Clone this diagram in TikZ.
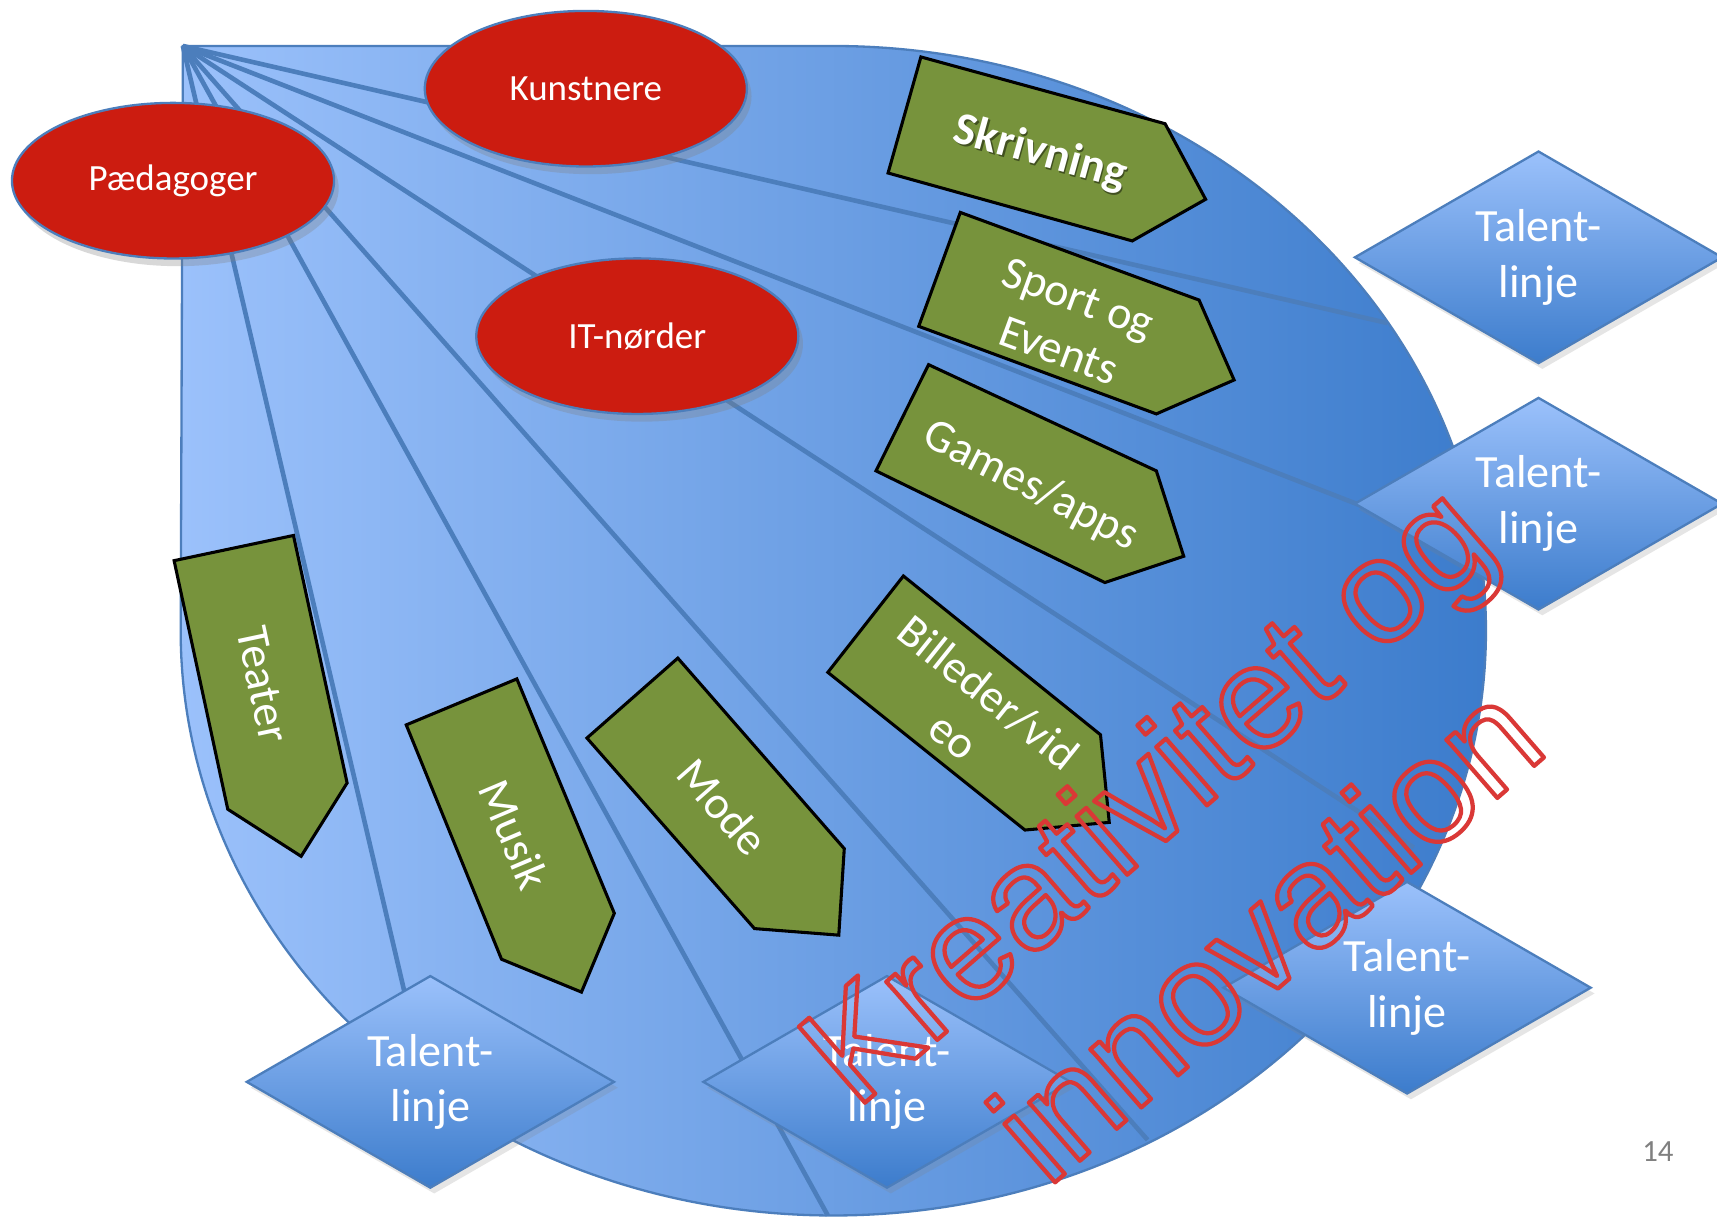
\documentclass[tikz,border=0pt]{standalone}
\usepackage{fontspec}
\setmainfont{Carlito}
\newfontfamily\wmfont{Liberation Sans}
\usetikzlibrary{shapes.geometric,shadows}
\definecolor{bluelight}{RGB}{155,193,251}
\definecolor{bluedark}{RGB}{60,124,204}
\definecolor{lineblue}{RGB}{76,126,188}
\definecolor{redell}{RGB}{204,28,16}
\definecolor{olivegreen}{RGB}{119,147,60}
\definecolor{wmred}{RGB}{218,56,54}
\definecolor{pagegray}{RGB}{128,128,128}
\newcommand\outlinetxt[1]{\special{pdf:literal direct 1 Tr 1.1 w 1 j}#1\special{pdf:literal direct 0 Tr}}
\tikzset{
  teardrop/.style={draw=lineblue, line width=0.6pt, left color=bluelight, right color=bluedark},
  ray/.style={draw=lineblue, line width=1.2pt},
  talent/.style={diamond, aspect=1.73, minimum width=3.36cm, minimum height=1.94cm, inner sep=0pt,
    draw=lineblue, line width=0.6pt, top color=bluelight, bottom color=bluedark,
    text=white, align=center, font=\fontsize{12}{14.5}\selectfont,
    drop shadow={shadow xshift=1pt, shadow yshift=-1.5pt, opacity=0.2}},
  group/.style={ellipse, minimum width=2.94cm, minimum height=1.42cm, inner sep=0pt,
    draw=lineblue, line width=0.6pt, fill=redell, text=white,
    font=\fontsize{9.6}{11.5}\selectfont,
    drop shadow={shadow xshift=1.2pt, shadow yshift=-2pt, opacity=0.3}},
  field/.style={draw=black, line width=0.8pt, fill=olivegreen, line join=miter},
  fieldtext/.style={text=white, align=center, inner sep=0pt, font=\fontsize{12}{14.5}\selectfont},
}
\begin{document}
\begin{tikzpicture}[x=0.01cm, y=0.01cm]
\useasboundingbox (0,0) rectangle (1568,-1112);
\fill[white] (0,0) rectangle (1568,-1112);

% big teardrop
\path[teardrop] (167,-42) -- (761,-42) arc[start angle=90, end angle=-180, x radius=596, y radius=534] -- cycle;

% rays
\coordinate (apex) at (167,-42);
\coordinate (e1) at (1267,-295);
\coordinate (e2) at (1300,-484);
\coordinate (e3) at (1291,-774);
\coordinate (e4) at (1048,-1041);
\coordinate (e5) at (756,-1110);
\coordinate (e7) at (375,-930);
\foreach \e in {e1,e2,e3,e4,e5,e7} \draw[ray] (apex) -- (\e);

% talent diamonds
\node[talent] (t1) at (1405,-235) {Talent-\\linje};
\node[talent] (t2) at (1405,-460) {Talent-\\linje};
\node[talent] (t3) at (1285,-902) {Talent-\\linje};
\node[talent] (t4) at (393,-988) {Talent-\\linje};
\node[talent] (t5) at (810,-988) {Talent-\\linje};

% red groups
\node[group] (paed) at (158,-165) {Pædagoger};
\node[group] (kunst) at (535,-81) {Kunstnere};
\node[group] (itn) at (582,-307) {IT-nørder};

% green fields
\path[field] (841,-52) -- (1064,-113) -- (1101,-182) -- (1034,-220) -- (811,-158) -- cycle;
\path[field] (877,-194) -- (1095,-274) -- (1127,-347) -- (1056,-378) -- (839,-298) -- cycle;
\path[field] (848,-333) -- (1056,-430) -- (1081,-508) -- (1009,-532) -- (800,-430) -- cycle;
\path[field] (825,-526) -- (1005,-671) -- (1013,-751) -- (936,-758) -- (756,-614) -- cycle;
\path[field] (159,-512) -- (268,-489) -- (317,-715) -- (275,-782) -- (208,-739) -- cycle;
\path[field] (371,-662) -- (472,-620) -- (561,-834) -- (531,-906) -- (458,-876) -- cycle;
\path[field] (536,-674) -- (619,-601) -- (771,-775) -- (766,-854) -- (689,-848) -- cycle;

\node[fieldtext, text=black, opacity=0.45, rotate=-15.4, font=\bfseries\fontsize{12}{14.5}\selectfont] (skrivshadow) at (951.5,-142) {Skrivning};
\node[fieldtext, rotate=-15.4, font=\bfseries\fontsize{12}{14.5}\selectfont] (skriv) at (950,-140) {Skrivning};
\node[fieldtext, rotate=-20.2] (sport) at (976,-296) {Sport og\\Events};
\node[fieldtext, rotate=-27] (games) at (941,-444) {Games/apps};
\node[fieldtext, rotate=-38.7] (bill) at (887,-652) {Billeder/vid\\eo};
\node[fieldtext, rotate=-78] (teater) at (240,-625) {Teater};
\node[fieldtext, rotate=-67] (musik) at (470,-762) {Musik};
\node[fieldtext, rotate=-48.7] (mode) at (660,-737) {Mode};

% watermark
\node[rotate=41, align=center, text=wmred, inner sep=0pt, font=\wmfont\fontsize{38}{48}\selectfont] (wm) at (1100,-786) {\outlinetxt{Kreativitet og}\\\outlinetxt{innovation}};

% page number
\node[text=pagegray, font=\fontsize{8}{9.6}\selectfont] (pg) at (1514,-1052) {14};
\end{tikzpicture}
\end{document}
